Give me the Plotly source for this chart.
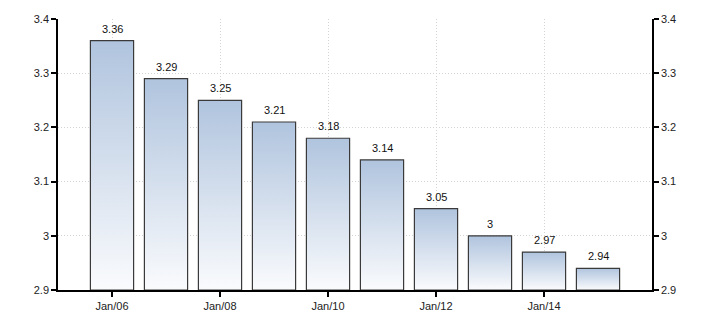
import plotly.graph_objects as go

years = [2006, 2007, 2008, 2009, 2010, 2011, 2012, 2013, 2014, 2015]
values = [3.36, 3.29, 3.25, 3.21, 3.18, 3.14, 3.05, 3.00, 2.97, 2.94]
value_labels = ["3.36", "3.29", "3.25", "3.21", "3.18", "3.14", "3.05", "3", "2.97", "2.94"]
x_tickvals = [2006, 2008, 2010, 2012, 2014]
x_ticktext = ["Jan/06", "Jan/08", "Jan/10", "Jan/12", "Jan/14"]
y_tickvals = [2.9, 3.0, 3.1, 3.2, 3.3, 3.4]
y_ticktext = ["2.9", "3", "3.1", "3.2", "3.3", "3.4"]

Y_MIN, Y_MAX = 2.9, 3.4
BAR_W = 0.8
FONT = "Liberation Sans, Arial, sans-serif"

fig = go.Figure()
for x, v in zip(years, values):
    h = BAR_W / 2
    fig.add_trace(go.Scatter(
        x=[x - h, x + h, x + h, x - h, x - h],
        y=[Y_MIN, Y_MIN, v, v, Y_MIN],
        mode="lines",
        fill="toself",
        fillgradient=dict(type="vertical",
                          colorscale=[[0, "#fafbfd"], [1, "#b0c4de"]]),
        line=dict(color="#3a3a3a", width=1.2),
        hoverinfo="skip",
        showlegend=False,
    ))

for x, v, t in zip(years, values, value_labels):
    fig.add_annotation(x=x, y=v, text=t, showarrow=False,
                       xanchor="center", yanchor="bottom", yshift=4,
                       font=dict(family=FONT, size=11, color="#111"))

fig.add_trace(go.Scatter(x=[years[0]], y=[values[0]], yaxis="y2",
                         mode="markers", marker=dict(opacity=0),
                         showlegend=False, hoverinfo="skip"))

axis_common = dict(
    showline=True, linecolor="#000", linewidth=1.5,
    ticks="outside", ticklen=5, tickcolor="#000", tickwidth=1.5,
    tickfont=dict(family=FONT, size=11, color="#222"),
    zeroline=False,
)
grid = dict(showgrid=True, gridcolor="#d4d4d4", griddash="1px,2px", gridwidth=1)

fig.update_layout(
    width=710, height=325,
    margin=dict(l=58, r=58, t=19, b=35),
    plot_bgcolor="white", paper_bgcolor="white",
    xaxis=dict(range=[2005, 2016], tickvals=x_tickvals, ticktext=x_ticktext,
               **grid, **axis_common),
    yaxis=dict(range=[Y_MIN, Y_MAX], tickvals=y_tickvals, ticktext=y_ticktext,
               **grid, **axis_common),
    yaxis2=dict(range=[Y_MIN, Y_MAX], tickvals=y_tickvals, ticktext=y_ticktext,
                overlaying="y", side="right", showgrid=False,
                **axis_common),
)

fig.write_html("out.html")
